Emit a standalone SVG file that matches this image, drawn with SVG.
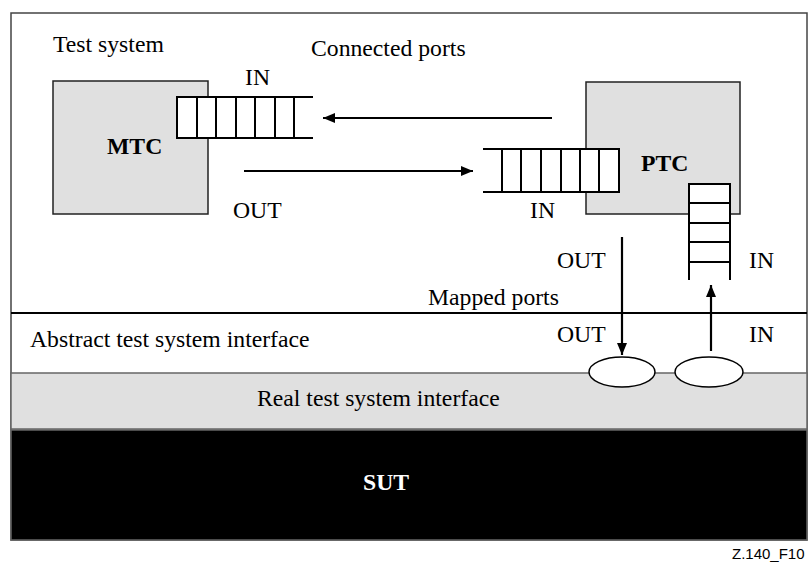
<svg xmlns="http://www.w3.org/2000/svg" width="808" height="565" viewBox="0 0 808 565">
<defs>
<style>
.t{font-family:"Liberation Serif","Times New Roman",serif;font-size:23.7px;fill:#000}
.b{font-weight:bold}
.box{fill:#e0e0e0;stroke:#222;stroke-width:1.5}
.q{fill:#fff;stroke:none}
.ql{stroke:#000;stroke-width:2;fill:none}
.c{stroke:#000;stroke-width:2.2;fill:none}
</style>
<marker id="ah" viewBox="0 0 12 10" refX="12" refY="5" markerWidth="12" markerHeight="10" markerUnits="userSpaceOnUse" orient="auto">
<path d="M0,0 L12,5 L0,10 Z" fill="#000"/>
</marker>
</defs>
<rect x="0" y="0" width="808" height="565" fill="#fff"/>
<g id="frame">
<rect x="11" y="13" width="796" height="527" fill="#fff" stroke="#444" stroke-width="1.5"/>
</g>
<g id="real-interface">
<rect x="11" y="373" width="796" height="56" fill="#e0e0e0" stroke="#666" stroke-width="1.5"/>
<text class="t" x="257" y="406">Real test system interface</text>
</g>
<g id="sut">
<rect x="11" y="430" width="796" height="110" fill="#000" stroke="#666" stroke-width="1.5"/>
<text class="t b" x="363" y="490" style="fill:#fff">SUT</text>
</g>
<g id="abstract-interface">
<line x1="11" y1="313" x2="807" y2="313" stroke="#000" stroke-width="2"/>
<text class="t" x="30" y="347">Abstract test system interface</text>
</g>
<text class="t" x="53" y="52">Test system</text>
<text class="t" x="311" y="56">Connected ports</text>
<g id="mtc">
<rect class="box" x="53" y="81" width="155" height="133"/>
<text class="t b" x="107" y="154">MTC</text>
</g>
<g id="mtc-in-queue">
<rect class="q" x="177" y="97" width="136" height="41"/>
<path class="ql" d="M313,97 H177 V138 H313 M197,97 V138 M216,97 V138 M236,97 V138 M255,97 V138 M275,97 V138 M294,97 V138"/>
<text class="t" x="245" y="85">IN</text>
</g>
<text class="t" x="233" y="218">OUT</text>
<g id="ptc">
<rect class="box" x="586" y="82" width="154" height="132"/>
<text class="t b" x="641" y="171">PTC</text>
</g>
<g id="ptc-in-queue">
<rect class="q" x="483" y="149" width="136" height="43"/>
<path class="ql" d="M483,149 H619 V192 H483 M502,149 V192 M521,149 V192 M541,149 V192 M561,149 V192 M580,149 V192 M599,149 V192"/>
<text class="t" x="530" y="218">IN</text>
</g>
<g id="ptc-mapped-in-queue">
<rect class="q" x="689" y="184" width="41" height="96"/>
<path class="ql" d="M689,280 V184 H730 V280 M689,203 H730 M689,223 H730 M689,242 H730 M689,262 H730"/>
</g>
<text class="t" x="557" y="268">OUT</text>
<text class="t" x="749" y="268">IN</text>
<text class="t" x="428" y="305">Mapped ports</text>
<text class="t" x="557" y="342">OUT</text>
<text class="t" x="749" y="342">IN</text>
<g id="port-out">
<ellipse cx="622" cy="372" rx="33" ry="15" fill="#fff" stroke="#000" stroke-width="1.5"/>
</g>
<g id="port-in">
<ellipse cx="709" cy="372" rx="34" ry="15" fill="#fff" stroke="#000" stroke-width="1.5"/>
</g>
<g id="connectors">
<line class="c" x1="552" y1="118" x2="323" y2="118" marker-end="url(#ah)"/>
<line class="c" x1="244" y1="171" x2="473" y2="171" marker-end="url(#ah)"/>
<line class="c" x1="622" y1="237" x2="622" y2="355" marker-end="url(#ah)"/>
<line class="c" x1="711" y1="351" x2="711" y2="285" marker-end="url(#ah)"/>
</g>
<text x="732" y="559" font-family="'Liberation Sans',Arial,sans-serif" font-size="15" fill="#000">Z.140_F10</text>
</svg>
